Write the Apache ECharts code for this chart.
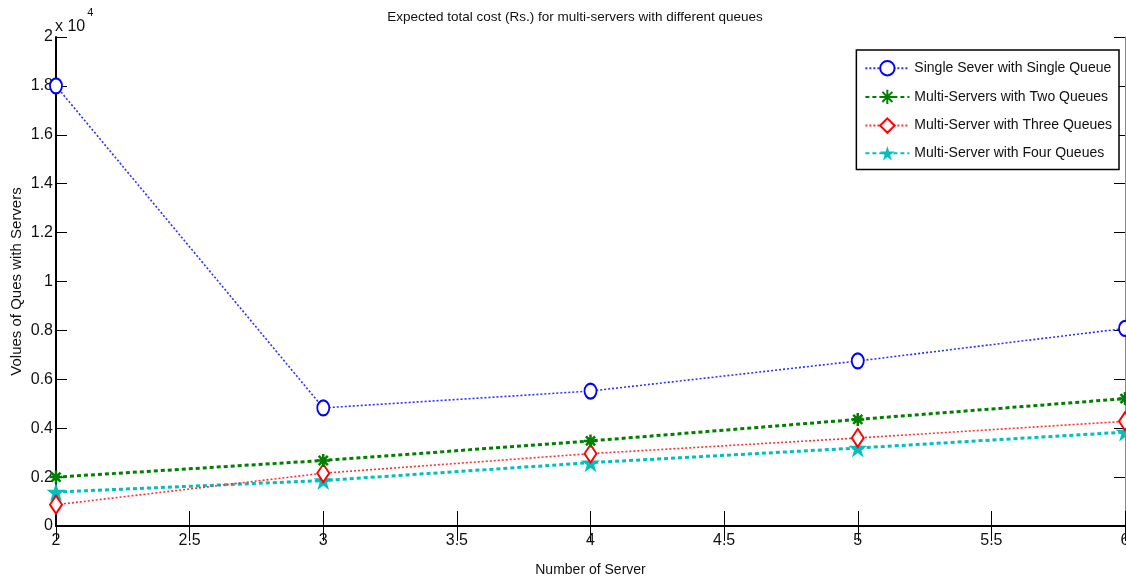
<!DOCTYPE html>
<html>
<head>
<meta charset="utf-8">
<script src="https://cdn.jsdelivr.net/npm/echarts@6/dist/echarts.min.js"></script>
<style>html,body{margin:0;padding:0;background:#fff;}#c{width:1126px;height:580px;}</style>
</head>
<body>
<div id="c"></div>
<script>
const servers = [2, 3, 4, 5, 6];
const singleQueue = [18000, 4830, 5520, 6750, 8080];
const twoQueues = [2000, 2680, 3480, 4360, 5210];
const threeQueues = [870, 2160, 2960, 3600, 4280];
const fourQueues = [1390, 1860, 2590, 3190, 3840];
const seriesNames = ['Single Sever with Single Queue', 'Multi-Servers with Two Queues', 'Multi-Server with Three Queues', 'Multi-Server with Four Queues'];
const titleText = 'Expected total cost (Rs.) for multi-servers with different queues';
const xName = 'Number of Server';
const yName = 'Volues of Ques with Servers';

const FONT = '"Liberation Sans Narrow", "Liberation Sans", Arial, sans-serif';
const pair = arr => servers.map((x, i) => [x, arr[i]]);
const starPath = 'path://M0,-1L0.2245,-0.309L0.951,-0.309L0.363,0.118L0.588,0.809L0,0.382L-0.588,0.809L-0.363,0.118L-0.951,-0.309L-0.2245,-0.309Z';
const asteriskPath = 'path://M0,-1L0,1M-1,0L1,0M-0.7,-0.7L0.7,0.7M-0.7,0.7L0.7,-0.7';

const chart = echarts.init(document.getElementById('c'), null, {renderer: 'canvas'});
const axisLine = {show: true, lineStyle: {color: '#000', width: 2}};
chart.setOption({
  animation: false,
  backgroundColor: '#fff',
  textStyle: {fontFamily: FONT},
  grid: {left: 56, right: 1, top: 37, bottom: 54, containLabel: false, outerBoundsMode: 'none'},
  graphic: [
    {type: 'text', x: 575, y: 10, style: {text: titleText, font: '13.5px ' + FONT, fill: '#111', textAlign: 'center'}},
    {type: 'text', x: 55, y: 7, style: {
      text: '{a|x 10}{b|4}', font: '15px ' + FONT, fill: '#111',
      rich: {a: {fontSize: 16, fontFamily: FONT, padding: [12, 0, 0, 0]}, b: {fontSize: 11, fontFamily: FONT, verticalAlign: 'top', padding: [0, 0, 10, 2]}}
    }}
  ],
  xAxis: [
    {type: 'value', min: 2, max: 6, interval: 0.5, position: 'bottom',
      name: xName, nameLocation: 'middle', nameGap: 37, nameMoveOverlap: false,
      nameTextStyle: {fontSize: 14, color: '#111', fontFamily: FONT},
      axisLine: axisLine, axisTick: {inside: true, length: 15, lineStyle: {color: '#000', width: 1}},
      axisLabel: {fontSize: 16, color: '#111', margin: 7, fontFamily: FONT, showMaxLabel: true, showMinLabel: true},
      splitLine: {show: false}},
    {type: 'value', min: 2, max: 6, interval: 0.5, position: 'top',
      axisLine: axisLine, axisTick: {inside: true, length: 15, lineStyle: {color: '#000', width: 1}},
      axisLabel: {show: false}, splitLine: {show: false}}
  ],
  yAxis: [
    {type: 'value', min: 0, max: 20000, interval: 2000, position: 'left',
      name: yName, nameLocation: 'middle', nameGap: 32, nameRotate: 90, nameMoveOverlap: false,
      nameTextStyle: {fontSize: 15, color: '#111', fontFamily: FONT},
      axisLine: axisLine, axisTick: {inside: true, length: 11, lineStyle: {color: '#000', width: 1}},
      axisLabel: {fontSize: 16, color: '#111', margin: 3, fontFamily: FONT, formatter: v => String(v / 10000)},
      splitLine: {show: false}},
    {type: 'value', min: 0, max: 20000, interval: 2000, position: 'right',
      axisLine: {show: true, lineStyle: {color: '#888', width: 1}}, axisTick: {inside: true, length: 11, lineStyle: {color: '#000', width: 1}},
      axisLabel: {show: false}, splitLine: {show: false}}
  ],
  legend: {
    orient: 'vertical', right: 7, top: 50,
    backgroundColor: '#fff', borderColor: '#000', borderWidth: 1.5,
    padding: [10, 7, 9, 8], itemWidth: 44, itemHeight: 18, itemGap: 12.3,
    textStyle: {fontSize: 14, color: '#111', fontFamily: FONT},
    data: seriesNames
  },
  series: [
    {name: seriesNames[0], type: 'line', data: pair(singleQueue), clip: false,
      symbol: 'emptyCircle', symbolSize: [12, 15],
      lineStyle: {color: '#3030ff', width: 1.6, type: [2, 2]},
      itemStyle: {color: '#0000ff', borderColor: '#0000ff', borderWidth: 2.5}, z: 5},
    {name: seriesNames[1], type: 'line', data: pair(twoQueues), clip: false,
      symbol: asteriskPath, symbolSize: 13,
      lineStyle: {color: '#008000', width: 3, type: [4, 3]},
      itemStyle: {color: '#008000', borderColor: '#008000', borderWidth: 2.5}, z: 4},
    {name: seriesNames[2], type: 'line', data: pair(threeQueues), clip: false,
      symbol: 'emptyDiamond', symbolSize: [12, 18],
      lineStyle: {color: '#ff3030', width: 1.6, type: [2, 2]},
      itemStyle: {color: '#ff0000', borderColor: '#ff0000', borderWidth: 2.5}, z: 3},
    {name: seriesNames[3], type: 'line', data: pair(fourQueues), clip: false,
      symbol: starPath, symbolSize: 19,
      lineStyle: {color: '#00bfbf', width: 3, type: [4, 3]},
      itemStyle: {color: '#00bfbf', borderColor: '#00bfbf', borderWidth: 0}, z: 2}
  ]
});
</script>
</body>
</html>
